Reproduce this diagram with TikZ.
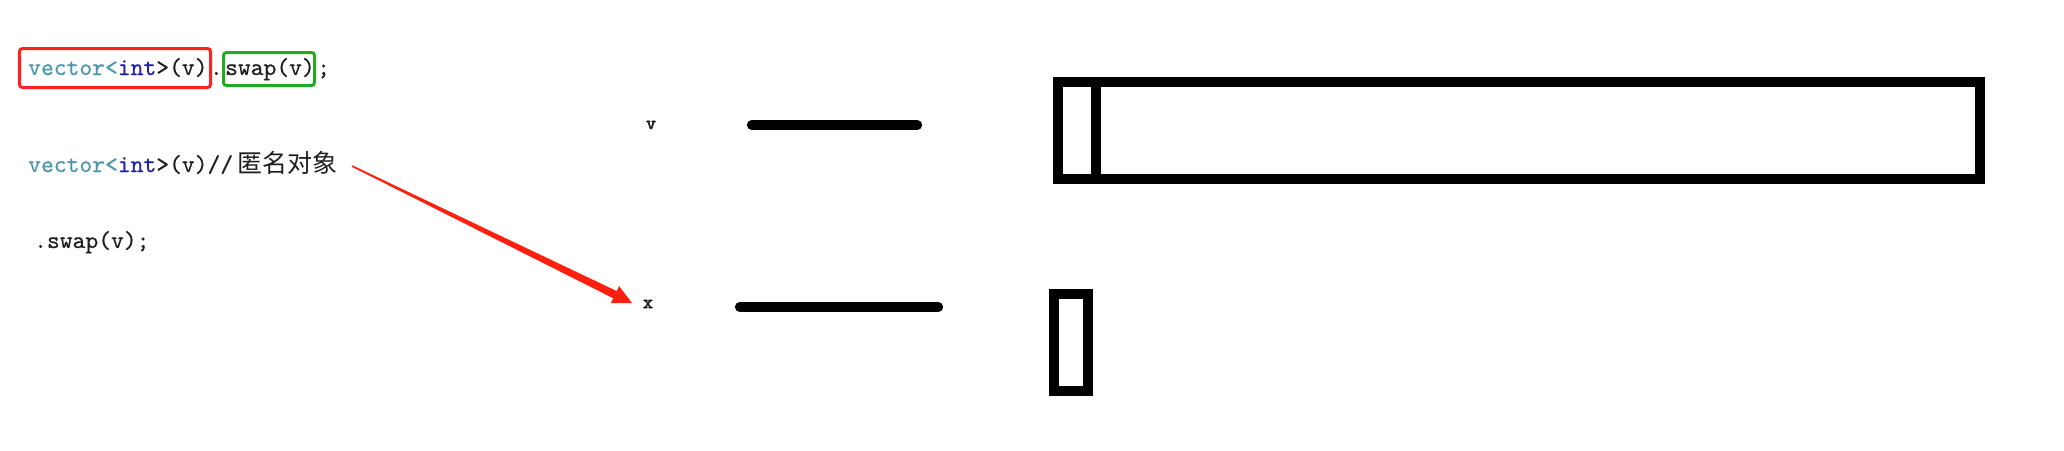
\documentclass[tikz,border=0pt]{standalone}
\usepackage{fontspec}
\newfontfamily\cjk{Noto Sans CJK SC}
\newfontfamily\codefont{lmmono10-regular.otf}[FakeBold=0.5]
\newfontfamily\lblfont{lmmono10-regular.otf}[FakeBold=3]
\usetikzlibrary{calc}
\definecolor{codeteal}{RGB}{77,150,172}
\definecolor{codeblue}{RGB}{32,32,170}
\definecolor{codeink}{RGB}{30,30,30}
\definecolor{hlred}{RGB}{255,32,32}
\definecolor{hlgreen}{RGB}{34,170,34}
\definecolor{arrred}{RGB}{255,32,16}
\begin{document}
\begin{tikzpicture}[x=1pt,y=-1pt,
 code/.style={inner sep=0pt, anchor=base west, font=\fontsize{24.4}{27}\selectfont\codefont, text=codeink},
 lbl/.style={inner sep=0pt, font=\fontsize{19}{21}\selectfont\lblfont, text=codeink},
 hlbox/.style={line width=3pt, rounded corners=3pt},
 varline/.style={line width=9.5pt, line cap=round},
 memblock/.style={line width=10pt},
]
\useasboundingbox[fill=white] (0,0) rectangle (2064,450);

% line 1
\node[code] (l1a) at (28,75) {\textcolor{codeteal}{vector<}\textcolor{codeblue}{int}>(v)};
\node[code, xshift=2pt] (l1b) at (l1a.base east) {.};
\node[code, xshift=2pt] (l1c) at (l1b.base east) {swap(v)};
\node[code, xshift=2pt] (l1d) at (l1c.base east) {;};
\draw[hlbox, hlred] (19.5,48.5) rectangle (210.5,87.5);
\draw[hlbox, hlgreen] (223.5,52.5) rectangle (314.5,85.5);

% line 2
\node[code] (l2a) at (28,172) {\textcolor{codeteal}{vector<}\textcolor{codeblue}{int}>(v)//};
\node[code, font=\fontsize{25}{27}\selectfont\cjk, xshift=4pt] (l2b) at (l2a.base east) {匿名对象};

% line 3
\node[code] (l3) at (34,248) {.swap(v);};

% variable labels
\node[lbl] (vlbl) at (651,125) {v};
\node[lbl] (xlbl) at (648,304) {x};

% variable lines
\coordinate (vl1) at (751.6,125);
\coordinate (vl2) at (917.4,125);
\coordinate (xl1) at (739.6,307);
\coordinate (xl2) at (938.4,307);
\draw[varline] (vl1) -- (vl2);
\draw[varline] (xl1) -- (xl2);

% memory blocks
\draw[memblock] (1058,82) rectangle (1980,179);
\draw[memblock] (1095.5,82) -- (1095.5,179);
\draw[memblock] (1054,294) rectangle (1088,391);

% tapered arrow
\coordinate (arrS) at (352,166);
\coordinate (arrE) at (632,303);
\coordinate (hb) at ($(arrE)!19pt!(arrS)$);
\fill[arrred] ($(arrS)!0.8pt!90:(arrE)$) -- ($(hb)!4pt!90:(arrE)$) -- ($(hb)!9.5pt!90:(arrE)$) -- (arrE) -- ($(hb)!9.5pt!-90:(arrE)$) -- ($(hb)!4pt!-90:(arrE)$) -- ($(arrS)!0.8pt!-90:(arrE)$) -- cycle;
\end{tikzpicture}
\end{document}
